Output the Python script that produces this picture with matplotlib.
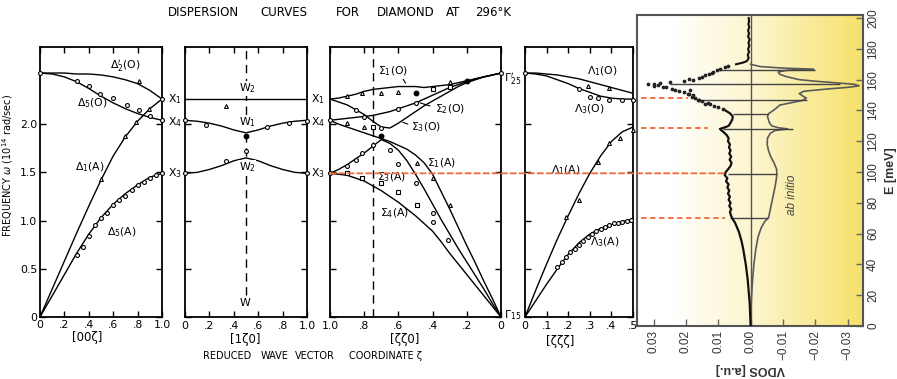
import numpy as np
import matplotlib.pyplot as plt
from matplotlib.colors import LinearSegmentedColormap
from matplotlib.patches import ConnectionPatch
from matplotlib.transforms import blended_transform_factory

plt.rcParams['font.family'] = ['DejaVu Sans']
plt.rcParams['mathtext.fontset'] = 'dejavusans'

# ---------- dispersion curves, omega in 10^14 rad/s ----------
# [00z]  Gamma -> X
z_delta = [0, .1, .2, .3, .4, .5, .6, .7, .8, .9, 1.0]
delta2p_O = [2.53, 2.53, 2.53, 2.52, 2.52, 2.51, 2.49, 2.46, 2.42, 2.35, 2.26]
delta5_O = [2.53, 2.52, 2.49, 2.44, 2.37, 2.29, 2.22, 2.16, 2.11, 2.07, 2.04]
delta1_A = [0, .29, .58, .87, 1.15, 1.42, 1.67, 1.87, 2.03, 2.16, 2.26]
delta5_A = [0, .22, .44, .66, .86, 1.03, 1.17, 1.28, 1.37, 1.45, 1.49]
delta_circ_z = [0, .3, .4, .49, .6, .71, .81, .9, 1.0, 1.0, .3, .35, .4, .45, .5, .55, .6, .65, .7, .75, .8, .85, .9, .95, 1.0]
delta_circ_w = [2.53, 2.45, 2.40, 2.31, 2.27, 2.20, 2.15, 2.08, 2.04, 2.26, .64, .73, .84, .95, 1.03, 1.08, 1.16, 1.21, 1.26, 1.32, 1.37, 1.40, 1.44, 1.47, 1.49]
delta_tri_z = [.81, .5, .7, .79, .89]
delta_tri_w = [2.45, 1.43, 1.88, 2.02, 2.16]

# [1z0]  X -> W -> X
z_w = [0, .1, .2, .3, .4, .5, .6, .7, .8, .9, 1.0]
w_X1 = [2.26, 2.26, 2.26, 2.26, 2.26, 2.26, 2.26, 2.26, 2.26, 2.26, 2.26]
w_X4 = [2.04, 2.03, 2.01, 1.98, 1.94, 1.91, 1.94, 1.98, 2.01, 2.03, 2.04]
w_X3 = [1.49, 1.50, 1.53, 1.57, 1.62, 1.65, 1.62, 1.57, 1.53, 1.50, 1.49]
w_circ_z = [0, .17, .67, .85, 1.0, .5, .34, 0, 1.0]
w_circ_w = [2.04, 1.99, 1.97, 2.01, 2.03, 1.72, 1.62, 1.49, 1.49]
w_dot_z = [.5]
w_dot_w = [1.88]
w_tri_z = [.34]
w_tri_w = [2.19]

# [zz0]  X -> K -> Gamma
z_sigma = [1.0, .95, .9, .85, .8, .75, .7, .65, .6, .55, .5, .45, .4, .35, .3, .25, .2, .15, .1, .05, 0]
sigma1_O = [2.26, 2.27, 2.29, 2.31, 2.34, 2.36, 2.37, 2.38, 2.39, 2.39, 2.39, 2.38, 2.39, 2.40, 2.41, 2.43, 2.45, 2.47, 2.49, 2.51, 2.53]
sigma2_O = [2.04, 2.05, 2.06, 2.07, 2.08, 2.09, 2.11, 2.13, 2.16, 2.19, 2.22, 2.26, 2.30, 2.34, 2.38, 2.41, 2.44, 2.47, 2.49, 2.51, 2.53]
sigma3_O = [2.26, 2.23, 2.20, 2.15, 2.10, 2.03, 1.97, 1.96, 2.01, 2.07, 2.13, 2.19, 2.24, 2.29, 2.34, 2.39, 2.43, 2.46, 2.49, 2.51, 2.53]
sigma1_A = [2.04, 2.00, 1.97, 1.94, 1.91, 1.88, 1.85, 1.82, 1.78, 1.74, 1.68, 1.60, 1.48, 1.30, 1.12, .93, .74, .56, .37, .19, 0]
sigma3_A = [1.49, 1.53, 1.58, 1.64, 1.70, 1.77, 1.84, 1.80, 1.73, 1.62, 1.48, 1.33, 1.17, 1.01, .86, .71, .57, .43, .29, .14, 0]
sigma4_A = [1.49, 1.48, 1.47, 1.44, 1.41, 1.36, 1.31, 1.25, 1.19, 1.12, 1.05, .97, .89, .78, .66, .55, .44, .33, .22, .11, 0]
s_tri_z = [.9, .81, .70, .60, .30, .9, .80, .49, .40, .30]
s_tri_w = [2.29, 2.32, 2.32, 2.33, 2.44, 2.01, 1.97, 1.60, 1.44, 1.16]
s_circ_z = [.85, .80, .70, .60, .50, .40, .9, .85, .81, .75, .65, .60, .50, .40, .40, .31, 1.0, 1.0, 0]
s_circ_w = [2.15, 2.07, 1.96, 2.16, 2.22, 2.37, 1.57, 1.63, 1.70, 1.78, 1.73, 1.59, 1.39, 1.08, .99, .80, 2.04, 1.49, 2.53]
s_sq_z = [.9, .81, .70, .60, .49, .75, .40, .30]
s_sq_w = [1.49, 1.44, 1.39, 1.30, 1.16, 1.97, 2.36, 2.39]
s_dot_z = [.50, .20, .70]
s_dot_w = [2.32, 2.45, 1.88]

# [zzz]  Gamma -> L
z_lambda = [0, .05, .1, .15, .2, .25, .3, .35, .4, .45, .5]
lambda1_O = [2.53, 2.53, 2.52, 2.51, 2.49, 2.47, 2.44, 2.41, 2.38, 2.35, 2.32]
lambda3_O = [2.53, 2.52, 2.50, 2.46, 2.42, 2.37, 2.33, 2.29, 2.27, 2.26, 2.26]
lambda1_A = [0, .28, .55, .81, 1.05, 1.28, 1.49, 1.67, 1.82, 1.92, 1.97]
lambda3_A = [0, .17, .34, .50, .65, .77, .86, .92, .96, .99, 1.01]
l_circ_z = [0, .25, .30, .34, .39, .45, .5, .15, .17, .19, .21, .23, .25, .27, .29, .31, .33, .35, .37, .39, .41, .43, .45, .47, .49]
l_circ_w = [2.53, 2.36, 2.28, 2.27, 2.25, 2.25, 2.25, .52, .57, .62, .67, .71, .75, .79, .83, .86, .89, .91, .93, .95, .97, .98, .99, 1.00, 1.01]
l_tri_z = [.29, .39, .19, .25, .34, .39, .44, .5]
l_tri_w = [2.40, 2.37, 1.04, 1.21, 1.61, 1.80, 1.86, 1.94]

X3 = 1.49

# ---------- VDOS (meV, arb. units; measured > 0, ab initio < 0) ----------
meas_E = [0, 5, 10, 15, 20, 25, 30, 35, 40, 45, 50, 55, 58, 61, 64, 67, 70, 72, 74, 76, 78, 80, 82, 84, 86, 88, 90,
          92, 94, 96, 98, 100, 102, 104, 106, 108, 110, 112, 114, 116, 118, 120, 122, 124, 126, 127, 128, 129, 130,
          132, 134, 136, 138, 140]
meas_v = [0, .0001, .0002, .0003, .0005, .0007, .0009, .0012, .0015, .0019, .0023, .0028, .0032, .0036, .0042,
          .0048, .0057, .0061, .0064, .0060, .0066, .0062, .0068, .0064, .0070, .0066, .0072, .0068, .0076, .0072,
          .0080, .0077, .0069, .0062, .0059, .0065, .0060, .0066, .0062, .0067, .0064, .0070, .0068, .0074, .0084,
          .0090, .0095, .0080, .0068, .0062, .0057, .0055, .0063, .0078]
dots_E = [141, 142, 143, 144, 144.5, 145, 146, 146.5, 147, 148, 149, 150, 150.5, 151, 152, 152.5, 153, 153.5, 154,
          155, 155.5, 156, 156.5, 157, 157.5, 158, 158.5, 159, 160, 160.5, 161, 162, 163, 164, 164.5, 165, 166, 167,
          168, 169]
dots_v = [.0085, .0100, .0112, .0125, .0140, .0133, .0150, .0162, .0158, .0172, .0180, .0178, .0195, .0190, .0205,
          .0220, .0188, .0234, .0243, .0272, .0262, .0300, .0285, .0317, .0300, .0280, .0250, .0205, .0178, .0190,
          .0160, .0150, .0140, .0130, .0120, .0115, .0105, .0095, .0080, .0070]
top_E = [170, 171, 172, 173, 174, 176, 178, 180, 182, 184, 186, 188, 190, 192, 194, 196, 198, 200]
top_v = [.0045, .0025, .0012, .0009, .0006, .0009, .0005, .0008, .0004, .0007, .0003, .0008, .0005, .0008, .0004,
         .0007, .0005, .0006]
calc_E = [0, 10, 20, 30, 40, 50, 58, 64, 68, 70, 71, 75, 80, 85, 90, 95, 99, 102, 106, 110, 114, 118, 122, 125, 127,
          128, 128.8, 130, 132, 134, 136, 138, 140, 142, 143.5, 145, 146.5, 148, 149.5, 151, 152.5, 154, 155, 156,
          157, 158, 159, 160, 162, 163.5, 165, 166, 166.8, 167.5, 168.5, 170]
calc_v = [0, -.0001, -.0003, -.0006, -.0010, -.0016, -.0023, -.0033, -.0044, -.0054, -.0056, -.0060, -.0065,
          -.0070, -.0075, -.0079, -.0081, -.0080, -.0072, -.0062, -.0055, -.0051, -.0052, -.0060, -.0075, -.0115,
          -.0085, -.0065, -.0058, -.0055, -.0052, -.0056, -.0070, -.0082, -.0090, -.0125, -.0160, -.0172, -.0160,
          -.0150, -.0165, -.0240, -.0300, -.0335, -.0320, -.0260, -.0200, -.0150, -.0110, -.0090, -.0085, -.0110,
          -.0195, -.0100, -.0030, 0]
# horizontal markers linking measured and calculated peaks
peak_E = [70, 99, 128, 137.5, 147, 157, 166.5]
peak_meas = [.0064, .0070, .0085, .0055, .0148, .0249, .0095]
peak_calc = [-.0054, -.0081, -.0130, -.0053, -.0173, -.0275, -.0198]
# red guide lines (E, end on measured curve)
red_E = [148, 128.4, 70]
red_v = [.0194, .0133, .0080]
x3_vdos = .0074

vdos_ticks = [.03, .02, .01, 0, -.01, -.02, -.03]
vdos_labels = ['0.03', '0.02', '0.01', '0.00', '\u22120.01', '\u22120.02', '\u22120.03']
E_ticks = [0, 20, 40, 60, 80, 100, 120, 140, 160, 180, 200]

# ---------------------------------------------------------------
W, H = 897.0, 379.0
fig = plt.figure(figsize=(W / 100, H / 100), dpi=100)


def box(left, right, top, bottom):
    # pixel edges in the scan -> figure fraction
    return [left / W, 1 - bottom / H, (right - left) / W, (bottom - top) / H]


def px(x, y):
    return x / W, 1 - y / H


ax1 = fig.add_axes(box(40, 162, 47, 317))
ax2 = fig.add_axes(box(185, 307, 47, 317))
ax3 = fig.add_axes(box(330, 501, 47, 317))
ax4 = fig.add_axes(box(525, 633, 47, 317))
axv = fig.add_axes(box(637, 863, 15, 326))

line_kw = dict(color='black', lw=1.0)
mk = dict(ls='none', ms=2.8, mfc='white', mec='black', mew=0.8, zorder=4, clip_on=False)
lab = dict(fontsize=7.8, ha='center', va='center')

for ax in (ax1, ax2, ax3, ax4):
    ax.set_ylim(0, 2.8)
    ax.set_yticks([0, 0.5, 1.0, 1.5, 2.0])
    ax.tick_params(direction='in', top=True, right=True, length=4, width=1.0,
                   labelsize=7.8, pad=3, labelleft=False)
    for sp in ax.spines.values():
        sp.set_linewidth(1.3)
ax1.tick_params(labelleft=True, pad=2)
ax1.set_yticklabels(['0', '0.5', '1.0', '1.5', '2.0'])

# panel 1  [00z]
ax1.set_xlim(0, 1)
ax1.set_xticks([0, .2, .4, .6, .8, 1.0])
ax1.set_xticklabels(['0', '.2', '.4', '.6', '.8', '1.0'])
for curve in (delta2p_O, delta5_O, delta1_A, delta5_A):
    ax1.plot(z_delta, curve, **line_kw)
ax1.plot(delta_circ_z, delta_circ_w, marker='o', **mk)
ax1.plot(delta_tri_z, delta_tri_w, marker='^', **mk)
ax1.text(.70, 2.60, r"$\Delta_2'$(O)", **lab)
ax1.text(.43, 2.22, r"$\Delta_5$(O)", **lab)
ax1.text(.41, 1.55, r"$\Delta_1$(A)", **lab)
ax1.text(.67, .88, r"$\Delta_5$(A)", **lab)
ax1.text(1.107, 2.26, r"X$_1$", **lab)
ax1.text(1.107, 2.02, r"X$_4$", **lab)
ax1.text(1.107, 1.49, r"X$_3$", **lab)

# panel 2  [1z0]
ax2.set_xlim(0, 1)
ax2.set_xticks([0, .2, .4, .6, .8, 1.0])
ax2.set_xticklabels(['0', '.2', '.4', '.6', '.8', '1.0'])
for curve in (w_X1, w_X4, w_X3):
    ax2.plot(z_w, curve, **line_kw)
ax2.axvline(.5, ymin=.08, ymax=1, color='black', lw=1.0, ls=(0, (6, 4)))
ax2.plot(w_circ_z, w_circ_w, marker='o', **mk)
ax2.plot(w_tri_z, w_tri_w, marker='^', **mk)
ax2.plot(w_dot_z, w_dot_w, marker='o', ls='none', ms=3.2, color='black', zorder=4)
wbox = dict(facecolor='white', edgecolor='none', pad=0.5)
ax2.text(.51, 2.37, r"W$_2$", bbox=wbox, **lab)
ax2.text(.51, 2.02, r"W$_1$", bbox=wbox, **lab)
ax2.text(.51, 1.55, r"W$_2$", bbox=wbox, **lab)
ax2.text(.49, .15, "W", bbox=wbox, **lab)
ax2.text(1.09, 2.26, r"X$_1$", **lab)
ax2.text(1.09, 2.02, r"X$_4$", **lab)
ax2.text(1.09, 1.49, r"X$_3$", **lab)

# panel 3  [zz0]
ax3.set_xlim(1, 0)
ax3.set_xticks([1.0, .8, .6, .4, .2, 0])
ax3.set_xticklabels(['1.0', '.8', '.6', '.4', '.2', '0'])
for curve in (sigma1_O, sigma2_O, sigma3_O, sigma1_A, sigma3_A, sigma4_A):
    ax3.plot(z_sigma, curve, **line_kw)
ax3.axvline(.75, color='black', lw=1.0, ls=(0, (6, 4)))
ax3.plot(s_circ_z, s_circ_w, marker='o', **mk)
ax3.plot(s_tri_z, s_tri_w, marker='^', **mk)
ax3.plot(s_sq_z, s_sq_w, marker='s', **dict(mk, ms=2.5))
ax3.plot(s_dot_z, s_dot_w, marker='o', ls='none', ms=3.2, color='black', zorder=4)
ax3.text(.63, 2.55, r"$\Sigma_1$(O)", **lab)
ax3.text(.30, 2.15, r"$\Sigma_2$(O)", **lab)
ax3.text(.44, 1.97, r"$\Sigma_3$(O)", **lab)
ax3.text(.35, 1.60, r"$\Sigma_1$(A)", **lab)
ax3.text(.64, 1.45, r"$\Sigma_3$(A)", **lab)
ax3.text(.62, 1.08, r"$\Sigma_4$(A)", **lab)
ptr = dict(arrowstyle='-', color='black', lw=0.8)
ax3.annotate('', xy=(.55, 2.40), xytext=(.58, 2.49), arrowprops=ptr)
ax3.annotate('', xy=(.49, 2.23), xytext=(.40, 2.18), arrowprops=ptr)
ax3.annotate('', xy=(.59, 2.03), xytext=(.53, 1.99), arrowprops=ptr)
ax3.text(-.065, 2.47, r"$\Gamma_{25}'$", **lab)
ax3.text(-.065, 0.02, r"$\Gamma_{15}$", **lab)

# panel 4  [zzz]
ax4.set_xlim(0, .5)
ax4.set_xticks([0, .1, .2, .3, .4, .5])
ax4.set_xticklabels(['0', '.1', '.2', '.3', '.4', '.5'])
for curve in (lambda1_O, lambda3_O, lambda1_A, lambda3_A):
    ax4.plot(z_lambda, curve, **line_kw)
ax4.plot(l_circ_z, l_circ_w, marker='o', **mk)
ax4.plot(l_tri_z, l_tri_w, marker='^', **mk)
ax4.text(.36, 2.55, r"$\Lambda_1$(O)", **lab)
ax4.text(.30, 2.16, r"$\Lambda_3$(O)", **lab)
ax4.text(.19, 1.52, r"$\Lambda_1$(A)", **lab)
ax4.text(.37, .78, r"$\Lambda_3$(A)", **lab)

# titles / axis captions of the scan
for word, xc in [('DISPERSION', 203), ('CURVES', 284), ('FOR', 348), ('DIAMOND', 406), ('AT', 453), ('296\u00b0K', 493)]:
    fig.text(*px(xc, 12), word, fontsize=8.5, ha='center', va='center')
fig.text(*px(87, 338), '[00\u03b6]', fontsize=8.5, ha='center', va='center')
fig.text(*px(245, 339), '[1\u03b60]', fontsize=8.5, ha='center', va='center')
fig.text(*px(405, 340), '[\u03b6\u03b60]', fontsize=8.5, ha='center', va='center')
fig.text(*px(560, 341), '[\u03b6\u03b6\u03b6]', fontsize=8.5, ha='center', va='center')
for word, xc in [('REDUCED', 227), ('WAVE', 275), ('VECTOR', 315), ('COORDINATE \u03b6', 385)]:
    fig.text(*px(xc, 356), word, fontsize=7, ha='center', va='center')
fig.text(*px(8, 165), r'FREQUENCY $\omega$ (10$^{14}$ rad/sec)', fontsize=7, rotation=90,
         ha='center', va='center')

# ---------- VDOS panel ----------
xl, xr = 0.0351, -0.0347
ytop = 202
bg = LinearSegmentedColormap.from_list('bg', [(0, '#ffffff'), (0.15, '#ffffff'), (0.55, '#fcf4c8'), (1, '#f6e169')])
axv.imshow(np.linspace(0, 1, 256)[None, :], extent=[xl, xr, 0, ytop], aspect='auto', cmap=bg, zorder=0)
axv.set_xlim(xl, xr)
axv.set_ylim(0, ytop)
axv.axvline(0, color='#555555', lw=1.0, zorder=1)
axv.plot(meas_v, meas_E, color='#111111', lw=1.6, zorder=3)
axv.plot(dots_v, dots_E, ls='none', marker='o', ms=1.7, color='#222222', zorder=3)
axv.plot(top_v, top_E, color='#111111', lw=1.5, zorder=3)
axv.plot(calc_v, calc_E, color='#5a5a5a', lw=1.2, zorder=2)
axv.hlines(peak_E, peak_meas, peak_calc, colors='#444444', lw=1.0, zorder=2)
axv.hlines(red_E, .034, red_v, colors='#f2683a', lw=1.3, linestyles=(0, (3, 2)), zorder=4)
axv.text(-.0127, 85, 'ab initio', fontsize=8.5, style='italic', rotation=90, color='#444444',
         ha='center', va='center', family='Liberation Sans')

axv.set_xticks(vdos_ticks)
axv.set_xticklabels(vdos_labels, rotation=90, family='Liberation Sans')
axv.yaxis.tick_right()
axv.set_yticks(E_ticks)
axv.set_yticklabels([str(e) for e in E_ticks], rotation=90, va='center', family='Liberation Sans')
axv.tick_params(direction='in', length=5, width=1.0, color='#666666', labelcolor='#333333', labelsize=8.5,
                right=True, left=False, pad=3)
for sp in axv.spines.values():
    sp.set_color('#555555')
    sp.set_linewidth(1.5)
axv.set_xlabel('VDOS [a.u.]', rotation=180, fontsize=9, fontweight='bold', color='#333333',
               family='Liberation Sans', labelpad=2)
axv.yaxis.set_label_position('right')
axv.set_ylabel('E [meV]', rotation=90, fontsize=9, fontweight='bold', color='#333333',
               family='Liberation Sans', labelpad=4)

# red guide from the X3 point across to the measured VDOS
con = ConnectionPatch(xyA=(1.0, X3), coordsA=ax3.transData,
                      xyB=(x3_vdos, X3), coordsB=blended_transform_factory(axv.transData, ax3.transData),
                      color='#f2683a', lw=1.3, ls=(0, (3, 2)), zorder=6)
fig.add_artist(con)

fig.savefig('out.png', dpi=100)
